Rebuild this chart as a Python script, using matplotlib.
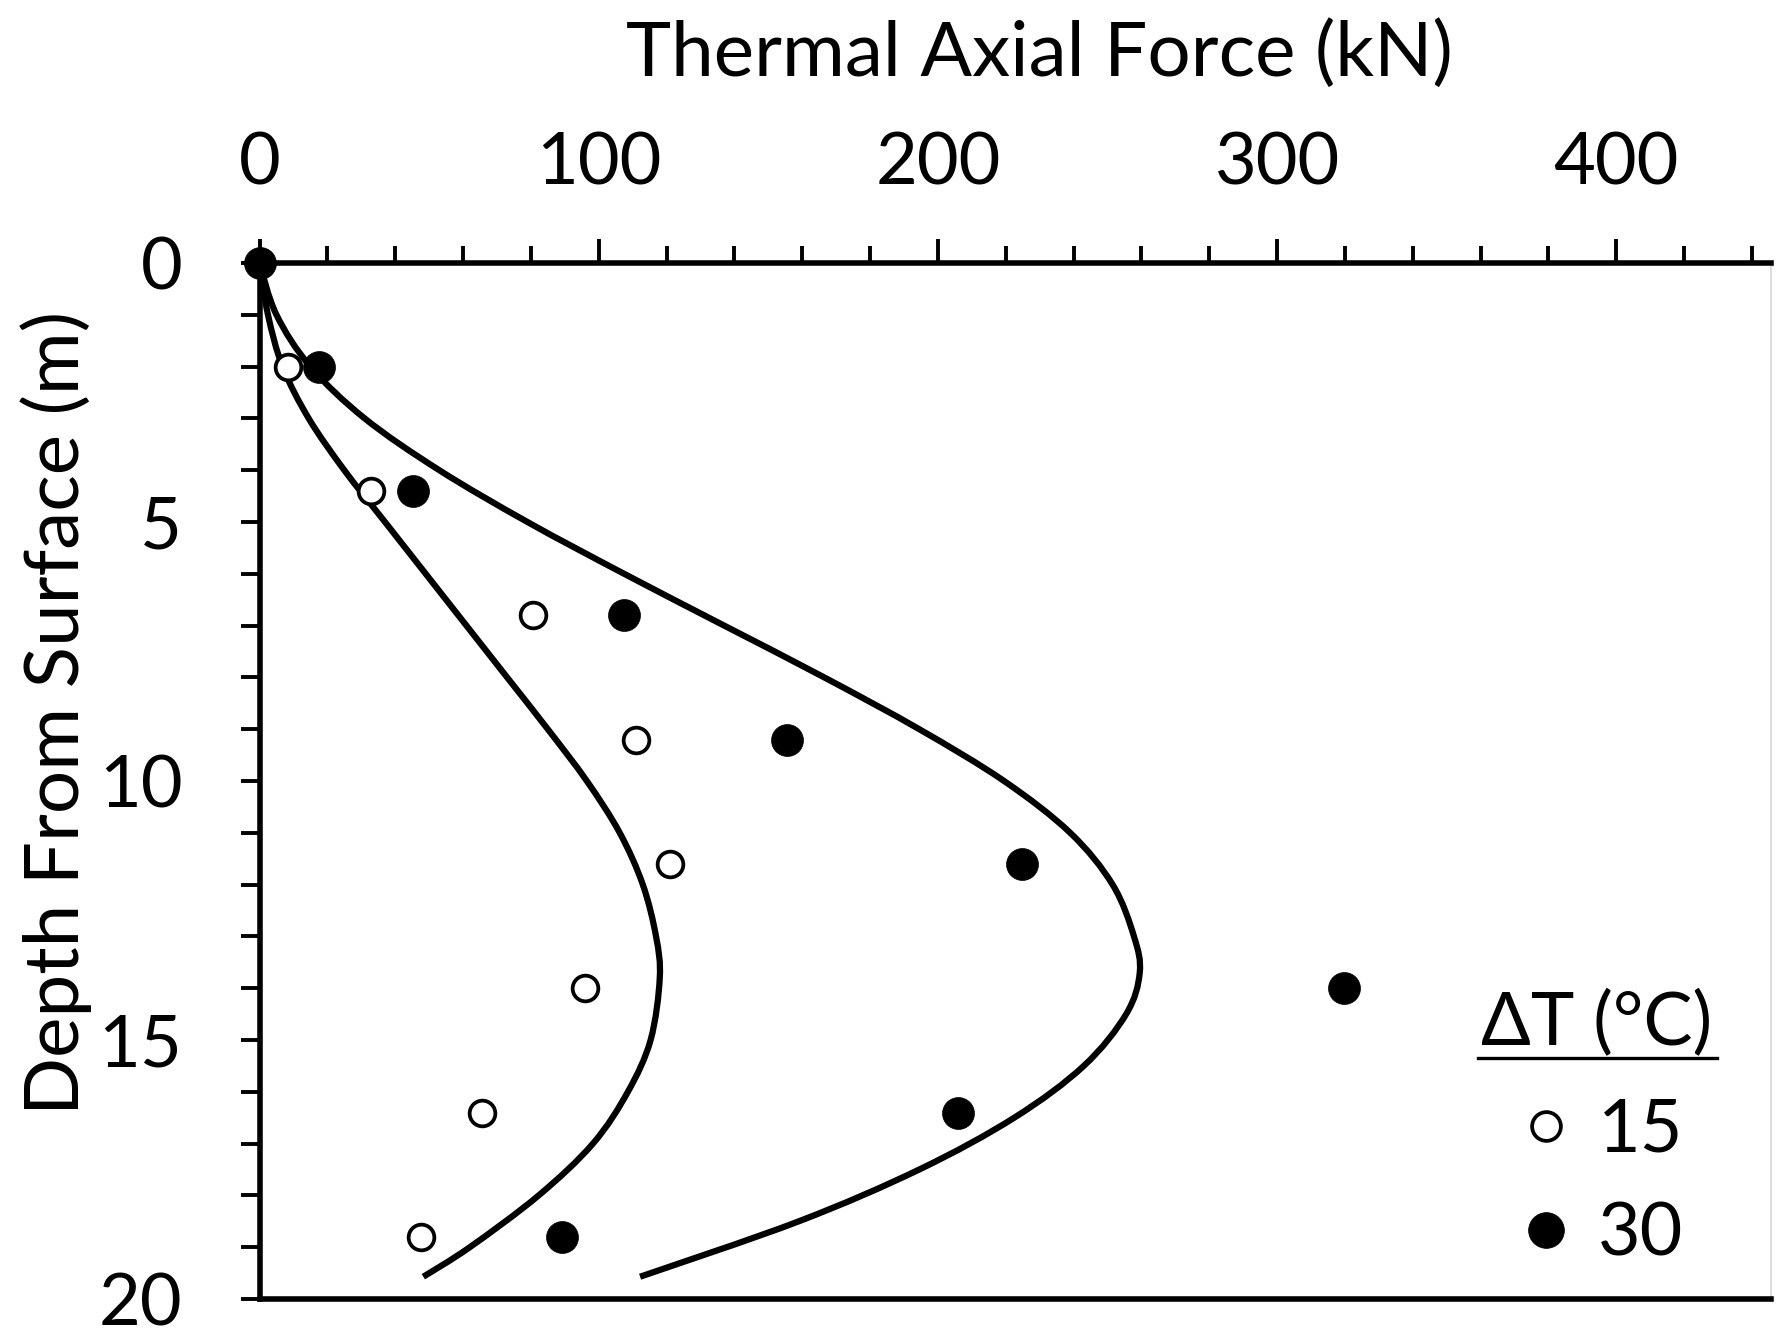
import numpy as np
import matplotlib
matplotlib.use("Agg")
import matplotlib.pyplot as plt
from matplotlib.path import Path
from matplotlib.patches import PathPatch
from matplotlib.lines import Line2D
from matplotlib.ticker import MultipleLocator

# ---------------------------------------------------------------- data
# measured thermal axial force at strain-gauge depths
depth_m = [0, 2.0, 4.4, 6.8, 9.2, 11.6, 14.0, 16.4, 18.8]
force_dT15 = [0, 8.5, 33.0, 80.5, 111.0, 121.0, 96.0, 65.5, 47.5]
force_dT30 = [0, 17.5, 45.3, 107.5, 155.5, 224.8, 319.8, 206.0, 89.2]

# predicted profiles (drawn as smoothed lines)
curve15_depth = [0, 1.0, 2.0, 3.0, 4.0, 5.0, 6.0, 7.0, 8.0, 9.0, 10.0, 11.0,
                 12.0, 13.0, 13.8, 15.0, 16.0, 17.0, 18.0, 19.0, 19.57]
curve15_force = [0, 2.5, 6.8, 14.5, 25.0, 37.0, 49.0, 61.0, 73.0, 85.0, 96.5,
                 106.2, 113.0, 116.9, 118.0, 115.3, 108.6, 98.3, 82.3, 62.0,
                 48.3]
curve30_depth = [0, 1.0, 2.0, 3.0, 4.0, 5.0, 6.0, 7.0, 8.0, 9.0, 10.0, 11.0,
                 12.0, 13.0, 13.7, 14.5, 15.5, 16.5, 17.5, 18.5, 19.57]
curve30_force = [0, 5.0, 15.0, 31.0, 53.0, 79.0, 107.5, 137.0, 166.5, 194.5,
                 219.5, 239.0, 251.5, 257.8, 259.5, 255.5, 243.0, 222.5, 194.5,
                 159.0, 112.2]

x_ticks = [0, 100, 200, 300, 400]
y_ticks = [0, 5, 10, 15, 20]
legend_labels = ["15", "30"]
legend_title = "ΔT (°C)"
x_title = "Thermal Axial Force (kN)"
y_title = "Depth From Surface (m)"

# ---------------------------------------------------------------- style
W, H, DPI = 1777, 1330, 100
FAM = ["Lato", "DejaVu Sans"]
FS_TICK = 52
FS_LABEL = 55
FS_LEG = 53
LW_CURVE = 4.5
LW_SPINE = 4.0

plt.rcParams["font.family"] = FAM


def smooth_path(xs, ys):
    """Catmull-Rom spline through the points, as cubic Bezier segments."""
    P = np.column_stack([xs, ys]).astype(float)
    ext = np.vstack([P[0], P, P[-1]])
    verts = [P[0]]
    codes = [Path.MOVETO]
    for i in range(len(P) - 1):
        p0, p1, p2, p3 = ext[i], ext[i + 1], ext[i + 2], ext[i + 3]
        verts += [p1 + (p2 - p0) / 6.0, p2 - (p3 - p1) / 6.0, p2]
        codes += [Path.CURVE4] * 3
    return Path(verts, codes)


fig = plt.figure(figsize=(W / DPI, H / DPI), dpi=DPI)
ax_left, ax_right, ax_top, ax_bot = 259.5, 1771.0, 263.0, 1299.0
ax = fig.add_axes([ax_left / W, 1 - ax_bot / H,
                   (ax_right - ax_left) / W, (ax_bot - ax_top) / H])

for xs, ys in [(curve15_force, curve15_depth), (curve30_force, curve30_depth)]:
    ax.add_patch(PathPatch(smooth_path(xs, ys), fill=False, edgecolor="black",
                           lw=LW_CURVE, capstyle="butt", joinstyle="round"))

h15, = ax.plot(force_dT15, depth_m, ls="none", marker="o", ms=18.5,
               mfc="white", mec="black", mew=2.7, clip_on=False, zorder=3)
h30, = ax.plot(force_dT30, depth_m, ls="none", marker="o", ms=23.0,
               mfc="black", mec="black", mew=0.5, clip_on=False, zorder=4)

ax.set_xlim(0, 445.6)
ax.set_ylim(20, 0)

ax.xaxis.tick_top()
ax.xaxis.set_label_position("top")
ax.set_xticks(x_ticks)
ax.xaxis.set_minor_locator(MultipleLocator(20))
ax.set_yticks(y_ticks)
ax.yaxis.set_minor_locator(MultipleLocator(1))

ax.tick_params(axis="x", which="major", direction="out", length=17,
               width=2.8, pad=31, labelsize=FS_TICK, top=True, bottom=False)
ax.tick_params(axis="x", which="minor", direction="out", length=12.5,
               width=2.8, top=True, bottom=False)
ax.tick_params(axis="y", which="both", direction="out", length=13.5,
               width=2.8, left=True, right=False)
ax.tick_params(axis="y", which="major", pad=42, labelsize=FS_TICK)

for side in ["top", "left", "bottom"]:
    ax.spines[side].set_linewidth(LW_SPINE)
    ax.spines[side].set_color("black")
ax.spines["right"].set_color("#d8d8d8")
ax.spines["right"].set_linewidth(1.2)

ax.set_xlabel(x_title, fontsize=FS_LABEL, va="baseline")
ax.xaxis.set_label_coords((1039 - ax_left) / (ax_right - ax_left),
                          1 + (ax_top - 75.5) / (ax_bot - ax_top))
ax.set_ylabel(y_title, fontsize=FS_LABEL)
ax.yaxis.set_label_coords((92 - ax_left) / (ax_right - ax_left),
                          1 - (713 - ax_top) / (ax_bot - ax_top))

# legend entries
leg = ax.legend([h15, h30], legend_labels, loc="upper left",
                bbox_to_anchor=(1524 / W, 1 - 1098 / H),
                bbox_transform=fig.transFigure, frameon=False,
                fontsize=FS_LEG, handlelength=0.6, handletextpad=0.4,
                labelspacing=0.5, borderpad=0, borderaxespad=0,
                markerscale=1.12)

# underlined legend heading
fig.text(1597 / W, 1 - 1045 / H, legend_title, fontsize=FS_LEG, ha="center",
         va="baseline")
fig.add_artist(Line2D([1478 / W, 1717 / W], [1 - 1058 / H, 1 - 1058 / H],
                      transform=fig.transFigure, color="black", lw=2.4))

fig.savefig("out.png", dpi=DPI, facecolor="white")
